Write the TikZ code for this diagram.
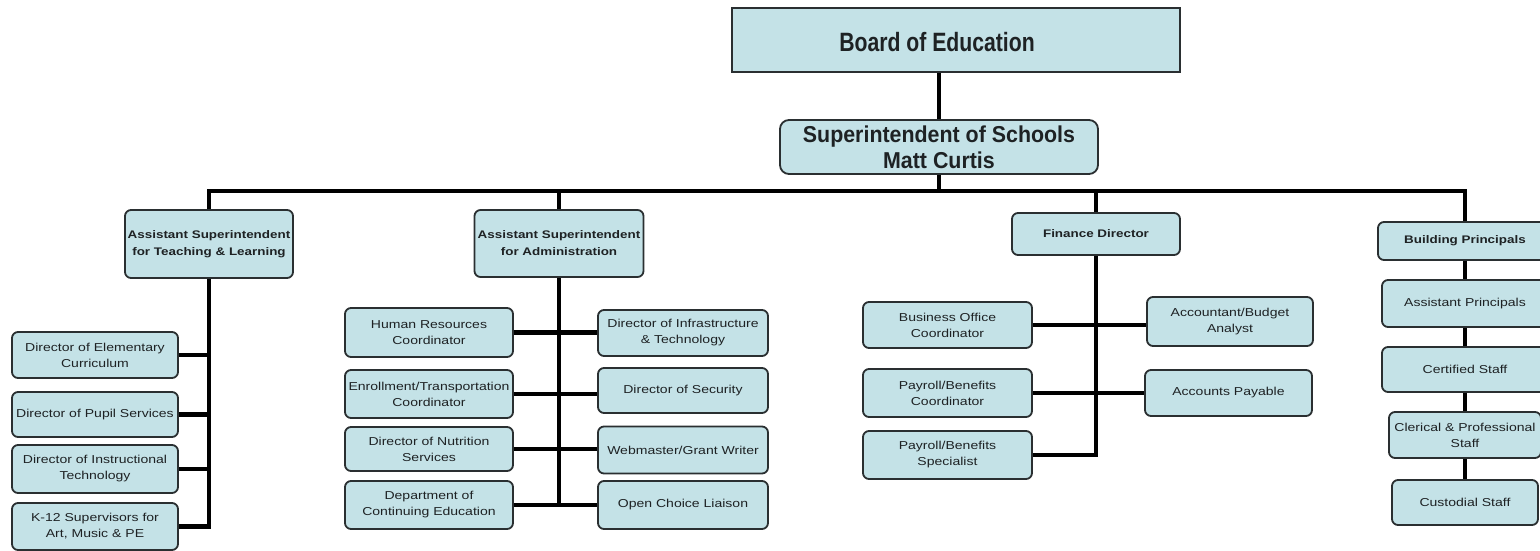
\documentclass[tikz,border=0pt]{standalone}
\usepackage{fontspec}
\setmainfont{Liberation Sans}
\newfontfamily\bigf[FakeStretch=0.80]{Liberation Sans}
\newfontfamily\supf[FakeStretch=0.93]{Liberation Sans}
\newfontfamily\smf[FakeStretch=1.22]{Liberation Sans}
\definecolor{boxfill}{HTML}{C4E2E7}
\definecolor{boxline}{HTML}{2A2F31}
\definecolor{txt}{HTML}{1E2224}
\begin{document}
\begin{tikzpicture}[x=1pt,y=-1pt,
  box/.style={draw=boxline, line width=1.8pt, fill=boxfill, rounded corners=6pt,
    inner sep=0pt, align=center, text=txt,
    font=\smf\fontsize{11.5}{16}\selectfont},
  hbox/.style={box, font=\smf\bfseries\fontsize{11}{17}\selectfont},
  link/.style={line width=4.6pt, black}]
\useasboundingbox (0,0) rectangle (1540,551);
\fill[white] (0,0) rectangle (1540,551);
\clip (0,0) rectangle (1540,551);

% top
\node[draw=boxline, line width=1.9pt, fill=boxfill, minimum width=448pt, minimum height=64pt,
  inner sep=0pt] (board) at (956,40) {};
\node[text=txt, inner sep=0pt, font=\bigf\bfseries\fontsize{26.5}{28}\selectfont] (boardtxt) at (937,42) {Board of Education};
\node[box, minimum width=318pt, minimum height=54pt, rounded corners=9pt,
  font=\supf\bfseries\fontsize{23}{26}\selectfont] (sup) at (939,147) {Superintendent of Schools\\Matt Curtis};

% second level
\node[hbox, minimum width=168pt, minimum height=68pt] (atl) at (209,244) {Assistant Superintendent\\for Teaching \& Learning};
\node[hbox, minimum width=169pt, minimum height=67pt] (asa) at (559,243.5) {Assistant Superintendent\\for Administration};
\node[hbox, minimum width=168pt, minimum height=42pt] (fd) at (1096,234) {Finance Director};
\node[hbox, minimum width=174pt, minimum height=38pt] (bp) at (1465,241) {Building Principals};

% teaching & learning
\node[box, minimum width=166pt, minimum height=46pt] (dec) at (95,355) {Director of Elementary\\Curriculum};
\node[box, minimum width=166pt, minimum height=45pt] (dps) at (95,414.5) {Director of Pupil Services};
\node[box, minimum width=166pt, minimum height=48pt] (dit) at (95,469) {Director of Instructional\\Technology};
\node[box, minimum width=166pt, minimum height=47pt] (k12) at (95,526.5) {K-12 Supervisors for\\Art, Music \& PE};

% administration
\node[box, minimum width=168pt, minimum height=49pt] (hr) at (429,332.5) {Human Resources\\Coordinator};
\node[box, minimum width=168pt, minimum height=48pt] (enr) at (429,394) {Enrollment/Transportation\\Coordinator};
\node[box, minimum width=168pt, minimum height=44pt] (nut) at (429,449) {Director of Nutrition\\Services};
\node[box, minimum width=168pt, minimum height=48pt] (dce) at (429,505) {Department of\\Continuing Education};
\node[box, minimum width=170pt, minimum height=46pt] (inf) at (683,333) {Director of Infrastructure\\\& Technology};
\node[box, minimum width=170pt, minimum height=45pt] (sec) at (683,390.5) {Director of Security};
\node[box, minimum width=170pt, minimum height=47pt] (web) at (683,450) {Webmaster/Grant Writer};
\node[box, minimum width=170pt, minimum height=48pt] (ocl) at (683,505) {Open Choice Liaison};

% finance
\node[box, minimum width=169pt, minimum height=46pt] (boc) at (947.5,325) {Business Office\\Coordinator};
\node[box, minimum width=169pt, minimum height=48pt] (pbc) at (947.5,393) {Payroll/Benefits\\Coordinator};
\node[box, minimum width=169pt, minimum height=48pt] (pbs) at (947.5,455) {Payroll/Benefits\\Specialist};
\node[box, minimum width=166pt, minimum height=49pt] (aba) at (1230,321.5) {Accountant/Budget\\Analyst};
\node[box, minimum width=167pt, minimum height=46pt] (ap) at (1228.5,393) {Accounts Payable};

% principals
\node[box, minimum width=166pt, minimum height=47pt] (apr) at (1465,303.5) {Assistant Principals};
\node[box, minimum width=166pt, minimum height=45pt] (cs) at (1465,369.5) {Certified Staff};
\node[box, minimum width=152pt, minimum height=46pt] (cps) at (1465,435) {Clerical \& Professional\\Staff};
\node[box, minimum width=146pt, minimum height=45pt] (cus) at (1465,502.5) {Custodial Staff};

% connectors
\coordinate (bus) at (0,191);
\draw[link] (board.south -| sup.north) -- (sup.north);
\draw[link] (sup.south) -- (sup.south |- bus);
\draw[link] (atl.north) -- (atl.north |- bus) -- (bp.north |- bus) -- (bp.north);
\draw[link] (asa.north |- bus) -- (asa.north);
\draw[link] (fd.north |- bus) -- (fd.north);

\draw[link] (atl.south) -- (atl.south |- k12.east) -- (k12.east);
\draw[link] (dec.east) -- (dec.east -| atl.south);
\draw[link] (dps.east) -- (dps.east -| atl.south);
\draw[link] (dit.east) -- (dit.east -| atl.south);

\draw[link] (asa.south) -- (asa.south |- dce.east);
\draw[link] (hr.east) -- (hr.east -| inf.west);
\draw[link] (enr.east) -- (enr.east -| sec.west);
\draw[link] (nut.east) -- (nut.east -| web.west);
\draw[link] (dce.east) -- (dce.east -| ocl.west);

\draw[link] (fd.south) -- (fd.south |- pbs.east) -- (pbs.east);
\draw[link] (boc.east) -- (boc.east -| aba.west);
\draw[link] (pbc.east) -- (pbc.east -| ap.west);

\draw[link] (bp.south) -- (apr.north);
\draw[link] (apr.south) -- (cs.north);
\draw[link] (cs.south) -- (cps.north);
\draw[link] (cps.south) -- (cus.north);
\end{tikzpicture}
\end{document}
